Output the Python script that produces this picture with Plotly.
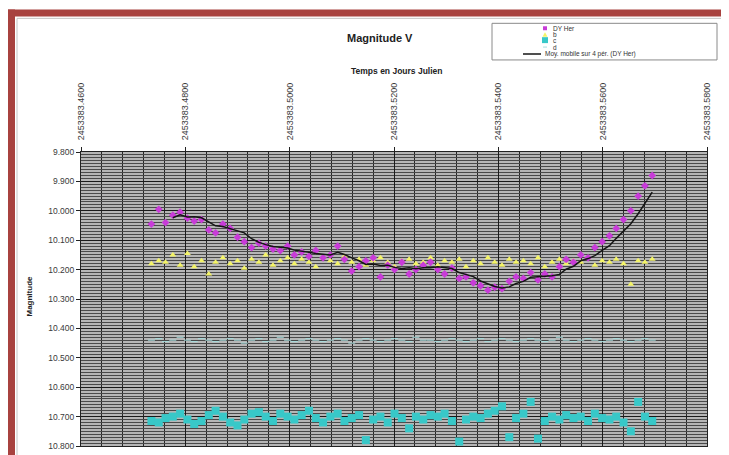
import plotly.graph_objects as go
import pandas as pd

# Julian day base and observation times (fraction of day)
JD0 = 2453383.0
jd_frac = [
    0.4735, 0.4749, 0.4762, 0.4776, 0.4790, 0.4804, 0.4817, 0.4831, 0.4845, 0.4858,
    0.4872, 0.4886, 0.4900, 0.4913, 0.4927, 0.4941, 0.4954, 0.4968, 0.4982, 0.4996,
    0.5009, 0.5023, 0.5037, 0.5050, 0.5064, 0.5078, 0.5092, 0.5105, 0.5119, 0.5133,
    0.5146, 0.5160, 0.5174, 0.5188, 0.5201, 0.5215, 0.5229, 0.5242, 0.5256, 0.5270,
    0.5284, 0.5297, 0.5311, 0.5325, 0.5338, 0.5352, 0.5366, 0.5380, 0.5393, 0.5407,
    0.5421, 0.5434, 0.5448, 0.5462, 0.5476, 0.5489, 0.5503, 0.5517, 0.5530, 0.5544,
    0.5558, 0.5572, 0.5585, 0.5599, 0.5613, 0.5626, 0.5640, 0.5654, 0.5668, 0.5681,
    0.5695,
]

mag_dyher = [
    10.045, 9.995, 10.040, 10.015, 10.005, 10.025, 10.035, 10.030, 10.065, 10.075,
    10.045, 10.060, 10.090, 10.105, 10.125, 10.110, 10.120, 10.130, 10.135, 10.120,
    10.150, 10.140, 10.155, 10.135, 10.160, 10.150, 10.120, 10.165, 10.205, 10.190,
    10.170, 10.160, 10.225, 10.185, 10.200, 10.175, 10.215, 10.200, 10.185, 10.175,
    10.200, 10.215, 10.195, 10.230, 10.225, 10.245, 10.255, 10.270, 10.260, 10.265,
    10.240, 10.225, 10.230, 10.210, 10.235, 10.215, 10.225, 10.190, 10.165, 10.175,
    10.150, 10.160, 10.125, 10.105, 10.085, 10.060, 10.030, 10.000, 9.950, 9.915,
    9.880,
]

mag_b = [
    10.180, 10.170, 10.175, 10.150, 10.185, 10.145, 10.190, 10.170, 10.215, 10.175,
    10.160, 10.180, 10.170, 10.195, 10.165, 10.175, 10.150, 10.185, 10.170, 10.160,
    10.180, 10.165, 10.175, 10.190, 10.160, 10.170, 10.180, 10.155, 10.175, 10.165,
    10.185, 10.170, 10.160, 10.175, 10.190, 10.170, 10.165, 10.180, 10.175, 10.160,
    10.185, 10.170, 10.175, 10.165, 10.190, 10.170, 10.180, 10.160, 10.175, 10.185,
    10.165, 10.175, 10.170, 10.180, 10.160, 10.190, 10.175, 10.165, 10.180, 10.170,
    10.175, 10.160, 10.185, 10.170, 10.175, 10.165, 10.180, 10.250, 10.170, 10.175,
    10.165,
]

mag_c = [
    10.715, 10.720, 10.705, 10.700, 10.690, 10.710, 10.725, 10.715, 10.695, 10.680,
    10.700, 10.720, 10.730, 10.710, 10.690, 10.685, 10.700, 10.715, 10.690, 10.700,
    10.710, 10.695, 10.680, 10.705, 10.720, 10.700, 10.690, 10.715, 10.705, 10.695,
    10.780, 10.710, 10.700, 10.720, 10.690, 10.705, 10.740, 10.700, 10.710, 10.695,
    10.700, 10.690, 10.715, 10.785, 10.710, 10.700, 10.705, 10.690, 10.680, 10.665,
    10.770, 10.705, 10.690, 10.650, 10.775, 10.715, 10.700, 10.710, 10.695, 10.705,
    10.700, 10.715, 10.690, 10.705, 10.710, 10.700, 10.720, 10.750, 10.650, 10.700,
    10.715,
]

mag_d = [
    10.440, 10.435, 10.445, 10.440, 10.430, 10.440, 10.445, 10.435, 10.440, 10.445,
    10.440, 10.435, 10.440, 10.450, 10.440, 10.435, 10.445, 10.440, 10.430, 10.440,
    10.445, 10.440, 10.435, 10.440, 10.445, 10.440, 10.435, 10.440, 10.450, 10.440,
    10.435, 10.440, 10.445, 10.440, 10.435, 10.440, 10.445, 10.430, 10.440, 10.440,
    10.445, 10.440, 10.435, 10.440, 10.445, 10.440, 10.435, 10.445, 10.440, 10.435,
    10.440, 10.445, 10.440, 10.435, 10.440, 10.445, 10.440, 10.430, 10.440, 10.445,
    10.440, 10.435, 10.440, 10.445, 10.440, 10.435, 10.440, 10.445, 10.440, 10.435,
    10.440,
]

jd = [JD0 + f for f in jd_frac]
# 4-period moving average of DY Her, as in the original spreadsheet trendline
mov_avg = pd.Series(mag_dyher).rolling(4).mean()

W, H = 729, 455
L, R, T, B = 73, 30, 144, 14
PW, PH = W - L - R, H - T - B

FONT = 'Liberation Sans, Arial, sans-serif'
RED = '#a8423f'
MAGENTA = '#c83cd8'
YELLOW = '#f4f468'
CYAN = '#38c8c8'
D_COL = '#a6dede'
TXT = '#3a3a3a'


def px(x):
    return (x - L) / PW


def py(y):
    return (H - B - y) / PH


fig = go.Figure()

fig.add_trace(go.Scatter(x=jd, y=mag_d, mode='markers', name='d',
                         marker=dict(symbol='line-ew', size=5,
                                     line=dict(color=D_COL, width=1))))
fig.add_trace(go.Scatter(x=jd, y=mag_c, mode='markers', name='c',
                         marker=dict(symbol='square', size=8, color=CYAN)))
fig.add_trace(go.Scatter(x=jd, y=mag_b, mode='markers', name='b',
                         marker=dict(symbol='triangle-up', size=6, color=YELLOW)))
fig.add_trace(go.Scatter(x=jd, y=mag_dyher, mode='markers', name='DY Her',
                         marker=dict(symbol='diamond', size=6, color=MAGENTA)))
fig.add_trace(go.Scatter(x=jd, y=mov_avg, mode='lines',
                         name='Moy. mobile sur 4 pér. (DY Her)',
                         line=dict(color='#151515', width=1.5)))

fig.update_xaxes(
    range=[JD0 + 0.46, JD0 + 0.58], side='top',
    tick0=JD0 + 0.46, dtick=0.02, tickformat='.4f', tickangle=-90,
    ticks='outside', ticklen=4, tickcolor='#222', ticklabelstandoff=5,
    tickfont=dict(family=FONT, size=9, color=TXT),
    showgrid=True, gridcolor='#1a1a1a', gridwidth=1,
    minor=dict(dtick=0.004, showgrid=True, gridcolor='#262626', gridwidth=1),
    showline=True, linecolor='#222', mirror=True, zeroline=False,
)
fig.update_yaxes(
    range=[10.8, 9.8], autorange=False,
    tick0=9.8, dtick=0.1, tickformat='.3f',
    ticks='outside', ticklen=4, tickcolor='#222',
    tickfont=dict(family=FONT, size=8.5, color=TXT),
    showgrid=True, gridcolor='#1a1a1a', gridwidth=1,
    minor=dict(dtick=0.01, showgrid=True, gridcolor='#4a4a4a', gridwidth=1),
    showline=True, linecolor='#222', mirror=True, zeroline=False,
)

shapes = [
    # red page border (top and left)
    dict(type='rect', xref='paper', yref='paper', x0=px(0), x1=px(W), y0=py(7), y1=py(0),
         fillcolor=RED, line=dict(width=0)),
    dict(type='rect', xref='paper', yref='paper', x0=px(0), x1=px(7), y0=py(H), y1=py(0),
         fillcolor=RED, line=dict(width=0)),
    # chart area border
    dict(type='line', xref='paper', yref='paper', x0=px(9), x1=px(W), y0=py(9), y1=py(9),
         line=dict(color='#c4c4c4', width=1)),
    dict(type='line', xref='paper', yref='paper', x0=px(9), x1=px(9), y0=py(H), y1=py(9),
         line=dict(color='#c4c4c4', width=1)),
    # legend box
    dict(type='rect', xref='paper', yref='paper', x0=px(484), x1=px(709), y0=py(51), y1=py(14),
         fillcolor='white', line=dict(color='#8a8a8a', width=1)),
    # legend keys
    dict(type='rect', xref='paper', yref='paper', x0=px(535), x1=px(539), y0=py(21), y1=py(17),
         fillcolor=MAGENTA, line=dict(width=0)),
    dict(type='path', xref='paper', yref='paper',
         path=f'M {px(534.5)} {py(27.5)} L {px(539.5)} {py(27.5)} L {px(537)} {py(23)} Z',
         fillcolor=YELLOW, line=dict(width=0)),
    dict(type='rect', xref='paper', yref='paper', x0=px(534), x1=px(540), y0=py(34), y1=py(28),
         fillcolor=CYAN, line=dict(width=0)),
    dict(type='line', xref='paper', yref='paper', x0=px(535), x1=px(539), y0=py(38), y1=py(38),
         line=dict(color=D_COL, width=1)),
    dict(type='line', xref='paper', yref='paper', x0=px(515), x1=px(533), y0=py(45), y1=py(45),
         line=dict(color='#151515', width=1.5)),
]

legend_rows = [('DY Her', 19), ('b', 25.5), ('c', 31.5), ('d', 38), ('Moy. mobile sur 4 pér. (DY Her)', 45)]
annotations = []
for i, (txt, yy) in enumerate(legend_rows):
    x0 = 543 if i < 4 else 535
    annotations.append(dict(text=txt, xref='paper', yref='paper', x=px(x0), y=py(yy),
                            xanchor='left', yanchor='middle', showarrow=False,
                            font=dict(family=FONT, size=6.5, color='#333')))

annotations += [
    dict(text='<b>Magnitude V</b>', xref='paper', yref='paper', x=px(372), y=py(29),
         xanchor='center', yanchor='middle', showarrow=False,
         font=dict(family=FONT, size=11, color='#222')),
    dict(text='<b>Temps en Jours Julien</b>', xref='paper', yref='paper', x=px(388), y=py(62),
         xanchor='center', yanchor='middle', showarrow=False,
         font=dict(family=FONT, size=8.5, color='#222')),
    dict(text='<b>Magnitude</b>', xref='paper', yref='paper', x=px(22), y=py(290),
         xanchor='center', yanchor='middle', showarrow=False, textangle=-90,
         font=dict(family=FONT, size=8, color='#222')),
]

fig.update_layout(
    width=W, height=H,
    margin=dict(l=L, r=R, t=T, b=B, pad=0),
    paper_bgcolor='white', plot_bgcolor='#b6b6b6',
    showlegend=False,
    shapes=shapes, annotations=annotations,
    font=dict(family=FONT),
)

fig.write_html("out.html")
